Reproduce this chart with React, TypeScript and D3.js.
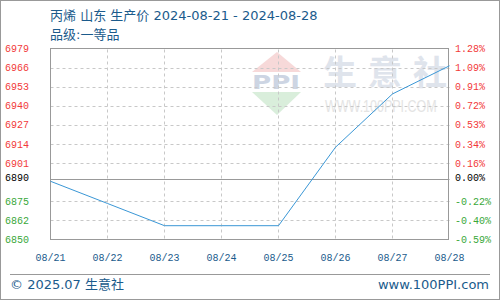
import React from "react";
import * as d3 from "d3";

const dates = ["08/21", "08/22", "08/23", "08/24", "08/25", "08/26", "08/27", "08/28"];
const prices = [6890, 6875, 6860, 6860, 6860, 6913, 6949, 6968];
const baseValue = 6890;
const yMin = 6850;
const yMax = 6979;
// tick labels, bottom to top (index 3 replaced by base line label)
const leftTickLabels = ["6850", "6862", "6875", "", "6901", "6914", "6927", "6940", "6953", "6966", "6979"];
const rightTickLabels = ["-0.59%", "-0.40%", "-0.22%", "", "0.16%", "0.34%", "0.53%", "0.72%", "0.91%", "1.09%", "1.28%"];
const baseLeftLabel = "6890";
const baseRightLabel = "0.00%";
const title = "丙烯 山东 生产价 2024-08-21 - 2024-08-28";
const subtitle = "品级:一等品";
const footerLeft = "© 2025.07 生意社";
const footerRight = "www.100PPI.com";

const W = 500, H = 300;
const L = 50.5, R = 449.5, T = 49.5, B = 240.5;

export default function App() {
  const x = d3.scalePoint<string>().domain(dates).range([L, R]);
  const y = d3.scaleLinear().domain([yMin, yMax]).range([B, T]);
  const tickPos = d3.scaleLinear().domain([0, leftTickLabels.length - 1]).range([B, T]);
  const line = d3.line<number>().x((_, i) => x(dates[i])!).y((d) => y(d));
  const baseY = Math.round(y(baseValue)) - 1.5;
  const red = "#f23a3a", green = "#3aa83a", blue = "#1b5b8c";
  const mono = "'Liberation Mono', monospace";
  const sans = "'DejaVu Sans', 'Noto Sans CJK SC', sans-serif";
  const gridIdx = d3.range(1, leftTickLabels.length - 1).filter((i) => i !== 3);

  return (
    <svg width={W} height={H} style={{ display: "block", position: "absolute", left: 0, top: 0 }}>
      <rect x={0} y={0} width={W} height={H} fill="#fff" />
      <rect x={0.5} y={0.5} width={W - 1} height={H - 1} fill="none" stroke="#999" />
      <text x={50} y={20} fontSize={13} fill={blue} fontFamily={sans}>{title}</text>
      <text x={50} y={39} fontSize={13} fill={blue} fontFamily={sans}>{subtitle}</text>

      {/* watermark */}
      <g>
        <polygon points="252,72 277,52 301,72" fill="#f7d9d9" />
        <text x={276} y={89} fontSize={19} fontWeight="bold" fill="#cdd5e3" textAnchor="middle" fontFamily="'DejaVu Sans', sans-serif" textLength={48} lengthAdjust="spacingAndGlyphs">PPI</text>
        <polygon points="252,92 301,92 277,115" fill="#d9eedb" />
        {["生", "意", "社"].map((c, i) => (
          <text key={c} x={340 + i * 45} y={85} fontSize={34} textAnchor="middle" fill="#dfe4ec" fontWeight="bold" fontFamily="'Noto Sans CJK SC', sans-serif">{c}</text>
        ))}
        <text transform="translate(325,112) scale(1,1.25)" x={0} y={0} fontSize={12.5} fill="#e4e4e4" fontFamily="'Liberation Sans', sans-serif">WWW.100PPI.COM</text>
      </g>

      {/* grid */}
      {gridIdx.map((i) => (
        <line key={"h" + i} x1={L} x2={R} y1={Math.round(tickPos(i)) - 0.5} y2={Math.round(tickPos(i)) - 0.5} stroke="#c8c8c8" strokeDasharray="3,3" />
      ))}
      {dates.slice(1, -1).map((d) => (
        <line key={"v" + d} x1={x(d)!} x2={x(d)!} y1={T} y2={B} stroke="#c8c8c8" strokeDasharray="3,3" />
      ))}
      <line x1={L} x2={R} y1={baseY} y2={baseY} stroke="#999" />
      <rect x={L} y={T - 1} width={R - L - 1} height={B - T} fill="none" stroke="#999" />

      {/* line */}
      <path d={line(prices) ?? ""} fill="none" stroke="#3a97d6" strokeWidth={1} />

      {/* left axis */}
      {leftTickLabels.map((lab, i) =>
        lab ? (
          <text key={"l" + i} x={5} y={tickPos(i) - 1} dy="0.35em" fontSize={10} fontFamily={mono} fill={i < 3 ? green : red}>{lab}</text>
        ) : null
      )}
      <text x={5} y={baseY - 2} dy="0.35em" fontSize={10} fontFamily={mono} fill="#000">{baseLeftLabel}</text>
      {rightTickLabels.map((lab, i) =>
        lab ? (
          <text key={"r" + i} x={455} y={tickPos(i) - 1} dy="0.35em" fontSize={10} fontFamily={mono} fill={i < 3 ? green : red}>{lab}</text>
        ) : null
      )}
      <text x={455} y={baseY - 2} dy="0.35em" fontSize={10} fontFamily={mono} fill="#000">{baseRightLabel}</text>

      {/* x axis */}
      {dates.map((d) => (
        <text key={"x" + d} x={x(d)!} y={257} dy="0.35em" fontSize={10} fontFamily={mono} fill={blue} textAnchor="middle">{d}</text>
      ))}

      {/* footer */}
      <line x1={10} x2={490} y1={274.5} y2={274.5} stroke="#999" />
      <text x={10} y={289} fontSize={13} fill={blue} fontFamily={sans}>{footerLeft}</text>
      <text x={489} y={289} fontSize={13} fill={blue} fontFamily={sans} textAnchor="end">{footerRight}</text>
    </svg>
  );
}
